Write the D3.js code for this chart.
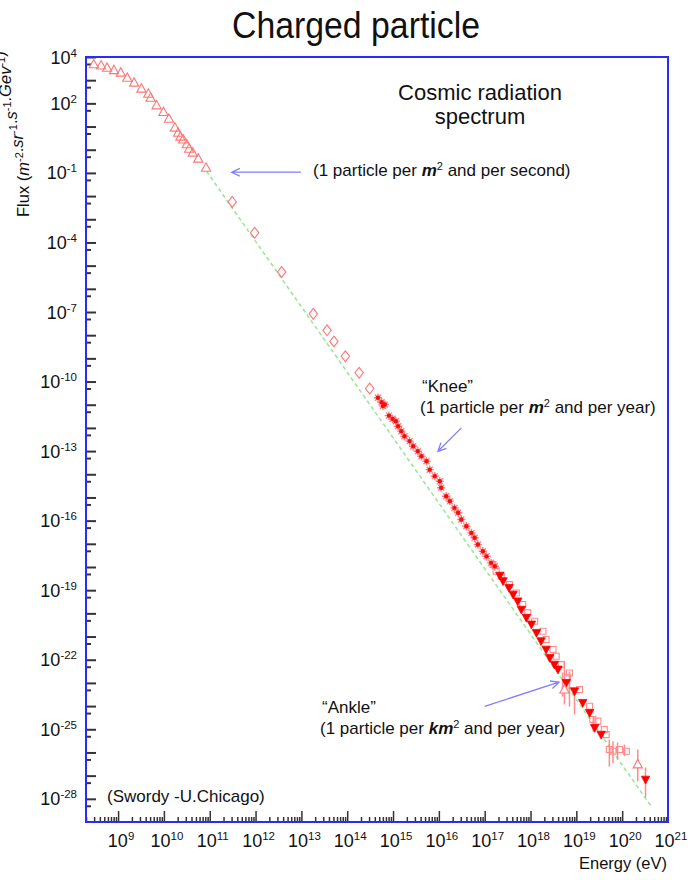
<!DOCTYPE html>
<html>
<head>
<meta charset="utf-8">
<script src="https://cdn.jsdelivr.net/npm/d3@7"></script>
<style>
body { margin: 0; background: #fff; }
text { font-family: Arial, "Liberation Sans", Helvetica, sans-serif; fill: #111; white-space: pre; }
</style>
</head>
<body>
<div id="chart"></div>
<script>
// values are log10(E / eV) and log10(flux)

var lowEnergy = [[8.47,3.68],[8.63,3.63],[8.76,3.53],[8.91,3.43],[9.06,3.32],[9.20,3.10],[9.35,2.89],
  [9.51,2.63],[9.66,2.41],[9.71,2.24],[9.84,1.91],[9.99,1.62],[10.11,1.33],[10.24,0.95],[10.31,0.73],
  [10.36,0.56],[10.42,0.44],[10.50,0.23],[10.55,0.04],[10.63,-0.13],[10.75,-0.39],[10.92,-0.78]];

var direct = [[11.49,-2.25],[11.98,-3.58],[12.57,-5.27],[13.26,-7.08],[13.56,-7.79],[13.71,-8.27],
  [13.96,-8.91],[14.26,-9.62],[14.49,-10.30]];

var airShower = [[14.67,-10.70],[14.75,-10.89],[14.78,-11.06],[14.82,-10.99],[14.91,-11.47],[14.99,-11.61],
  [15.06,-11.71],[15.11,-11.93],[15.18,-12.14],[15.25,-12.36],[15.36,-12.57],[15.44,-12.79],[15.54,-13.01],
  [15.62,-13.22],[15.73,-13.44],[15.80,-13.80],[15.91,-14.08],[16.02,-14.30],[16.05,-14.58],[16.16,-14.95],
  [16.24,-15.16],[16.34,-15.45],[16.42,-15.66],[16.49,-15.95],[16.60,-16.24],[16.71,-16.53],[16.78,-16.74],
  [16.85,-17.03],[16.96,-17.32],[17.04,-17.54],[17.14,-17.82],[17.22,-17.97]];

var filledDown = [[17.33,-18.37],[17.40,-18.61],[17.53,-18.90],[17.62,-19.19],[17.72,-19.48],[17.80,-19.84],
  [17.91,-20.19],[18.02,-20.48],[18.13,-20.84],[18.23,-21.20],[18.34,-21.56],[18.42,-21.92],[18.52,-22.21],
  [18.60,-22.42],[18.78,-23.00],[18.96,-23.36],[19.14,-23.86],[19.29,-24.29],[19.40,-24.94],[19.54,-25.23],
  [20.51,-27.17]];

var openSquare = [[17.18,-17.89],[17.25,-18.18],[17.36,-18.40],[17.54,-18.76],[17.69,-19.12],[17.83,-19.62],
  [17.94,-19.98],[18.09,-20.34],[18.27,-20.77],[18.34,-21.13],[18.49,-21.56],[18.56,-21.85],[18.67,-22.21],
  [18.81,-22.78],[18.85,-22.57],[19.07,-23.29],[19.29,-24.01],[19.36,-24.58],[19.47,-24.65],[19.61,-25.01],
  [19.65,-25.23],[19.72,-25.87],[19.80,-25.95],[19.94,-25.87],[20.09,-25.95]];

var openUp = [[18.74,-23.29],[20.34,-26.52]];

// [log E, low, high]
var errorBars = [[18.70,-23.59,-22.55],[18.74,-23.93,-22.07],[18.85,-24.02,-22.51],[18.96,-24.36,-23.42],
  [19.37,-25.10,-24.45],[19.72,-26.61,-25.44],[19.80,-26.45,-25.52],[19.90,-26.31,-25.57],
  [20.05,-26.16,-25.66],[20.34,-27.24,-25.87],[20.51,-27.95,-26.65]];

var refLine = [[10.93,-0.93],[20.63,-28.32]];

var yLabelExp = [4, 2, -1, -4, -7, -10, -13, -16, -19, -22, -25, -28];
var xLabelExp = [9, 10, 11, 12, 13, 14, 15, 16, 17, 18, 19, 20, 21];

// arrows: [tail, head]
var arrows = [
  [[12.99,-0.97],[11.48,-0.97]],
  [[16.49,-12.00],[15.98,-13.01]],
  [[17.00,-24.01],[18.62,-22.97]]
];

var width = 688, height = 880;
var plotL = 86, plotR = 668, plotT = 57, plotB = 822;

var svg = d3.select("#chart").append("svg")
    .attr("width", width)
    .attr("height", height);

var x = d3.scaleLog().domain([Math.pow(10, 8.3), 1e21]).range([plotL, plotR]);
var y = d3.scaleLog().domain([1e-29, 1e4]).range([plotB, plotT]);

function px(d) { return x(Math.pow(10, d[0])); }
function py(d) { return y(Math.pow(10, d[1])); }

// ======= ticks ========

var yMajor = d3.range(-28, 5).map(function(k) { return Math.pow(10, k); });
var yMinor = d3.range(-29, 4).map(function(k) { return 5 * Math.pow(10, k); });
var xMajor = d3.range(9, 21).map(function(k) { return Math.pow(10, k); });
var xMinor = [];
d3.range(8, 21).forEach(function(k) {
  d3.range(2, 10).forEach(function(m) {
    var v = m * Math.pow(10, k);
    if (v > x.domain()[0] && v < 1e21) xMinor.push(v);
  });
});

function tickAxis(axis, tr, sw) {
  var g = svg.append("g").attr("transform", tr).call(axis);
  g.select(".domain").remove();
  g.selectAll("line").attr("stroke", "#333").attr("stroke-width", sw);
  return g;
}
tickAxis(d3.axisLeft(y).tickValues(yMajor).tickSize(-10).tickFormat(""), "translate(" + plotL + ",0)", 2);
tickAxis(d3.axisLeft(y).tickValues(yMinor).tickSize(-5).tickFormat(""), "translate(" + plotL + ",0)", 2);
tickAxis(d3.axisBottom(x).tickValues(xMajor).tickSize(-11).tickFormat(""), "translate(0," + plotB + ")", 1.5);
tickAxis(d3.axisBottom(x).tickValues(xMinor).tickSize(-5).tickFormat(""), "translate(0," + plotB + ")", 1.5);

// ======= tick labels ========

function powLabel(sel, e) {
  sel.append("tspan").attr("font-size", 18).text("10");
  sel.append("tspan").attr("font-size", 11.5).attr("dy", -7).text(e);
}

yLabelExp.forEach(function(e) {
  var t = svg.append("text")
      .attr("x", 77)
      .attr("y", y(Math.pow(10, e)) + 6.5)
      .attr("text-anchor", "end");
  powLabel(t, e);
});

xLabelExp.forEach(function(e) {
  var t = svg.append("text")
      .attr("x", x(Math.pow(10, e)) + 3)
      .attr("y", 847)
      .attr("text-anchor", "middle");
  powLabel(t, e);
});

// ======= reference line ========

var line = d3.line().x(px).y(py);
svg.append("path")
    .attr("d", line(refLine))
    .attr("fill", "none")
    .attr("stroke", "#9be89b")
    .attr("stroke-width", 1.6)
    .attr("stroke-dasharray", "4,3");

// ======= error bars ========

svg.selectAll(".err")
    .data(errorBars)
  .enter().append("line")
    .attr("class", "err")
    .attr("x1", function(d) { return x(Math.pow(10, d[0])); })
    .attr("x2", function(d) { return x(Math.pow(10, d[0])); })
    .attr("y1", function(d) { return y(Math.pow(10, d[1])); })
    .attr("y2", function(d) { return y(Math.pow(10, d[2])); })
    .attr("stroke", "#ff8c8c")
    .attr("stroke-width", 1.5);

// ======= markers ========

var triUp = "M0,-5L4.6,3.4L-4.6,3.4Z";
var triDown = "M-4.2,-3.4L4.2,-3.4L0,4.4Z";
var diamond = "M0,-5.4L4.2,0L0,5.4L-4.2,0Z";
var square = "M-3,-3L3,-3L3,3L-3,3Z";
var star = "M-4.2,0L4.2,0M0,-4.2L0,4.2M-3,-3L3,3M-3,3L3,-3";

function markers(data, cls, shape, fill, stroke, sw) {
  svg.selectAll("." + cls)
      .data(data)
    .enter().append("path")
      .attr("class", cls)
      .attr("d", shape)
      .attr("transform", function(d) { return "translate(" + px(d) + "," + py(d) + ")"; })
      .attr("fill", fill)
      .attr("stroke", stroke)
      .attr("stroke-width", sw);
}

markers(lowEnergy, "low", triUp, "none", "#ff7575", 1.1);
markers(direct, "dir", diamond, "none", "#ff7575", 1.1);
markers(openSquare, "sq", square, "none", "#ff8a8a", 1.1);
markers(airShower, "air", star, "none", "#ff8080", 1.4);
svg.selectAll(".airc")
    .data(airShower)
  .enter().append("circle")
    .attr("class", "airc")
    .attr("cx", px).attr("cy", py)
    .attr("r", 2.2)
    .attr("fill", "#ee1111");
markers(filledDown, "fd", triDown, "#ff0000", "#ff0000", 0.8);
markers(openUp, "ou", triUp, "#fff", "#ff7575", 1.1);

// ======= arrows ========

arrows.forEach(function(a) {
  var x1 = px(a[0]), y1 = py(a[0]), x2 = px(a[1]), y2 = py(a[1]);
  var ang = Math.atan2(y2 - y1, x2 - x1);
  var h = 9, spread = 0.45;
  var p = d3.path();
  p.moveTo(x1, y1); p.lineTo(x2, y2);
  p.moveTo(x2 - h * Math.cos(ang - spread), y2 - h * Math.sin(ang - spread));
  p.lineTo(x2, y2);
  p.lineTo(x2 - h * Math.cos(ang + spread), y2 - h * Math.sin(ang + spread));
  svg.append("path")
      .attr("d", p.toString())
      .attr("fill", "none")
      .attr("stroke", "#7f7fff")
      .attr("stroke-width", 1.3);
});

// ======= frame ========

svg.append("rect")
    .attr("x", plotL).attr("y", plotT)
    .attr("width", plotR - plotL).attr("height", plotB - plotT)
    .attr("fill", "none")
    .attr("stroke", "#2a2aff")
    .attr("stroke-width", 2);

// ======= texts ========

svg.append("text")
    .attr("x", 356).attr("y", 38)
    .attr("text-anchor", "middle")
    .attr("font-size", 36)
    .attr("textLength", 248)
    .attr("lengthAdjust", "spacingAndGlyphs")
    .text("Charged particle");

svg.append("text").attr("x", 480).attr("y", 100).attr("text-anchor", "middle")
    .attr("font-size", 22).text("Cosmic radiation");
svg.append("text").attr("x", 480).attr("y", 124).attr("text-anchor", "middle")
    .attr("font-size", 22).text("spectrum");

function annot(xp, yp, before, unit, after) {
  var t = svg.append("text").attr("x", xp).attr("y", yp).attr("font-size", 17);
  t.append("tspan").text(before);
  t.append("tspan").attr("font-weight", "bold").attr("font-style", "italic").text(unit);
  t.append("tspan").attr("font-size", 11).attr("dy", -6).text("2");
  t.append("tspan").attr("dy", 6).text(after);
}

annot(313, 176, "(1 particle per ", "m", " and per second)");
svg.append("text").attr("x", 422).attr("y", 392).attr("font-size", 17).text("\u201cKnee\u201d");
annot(420, 413, "(1 particle per ", "m", " and per year)");
svg.append("text").attr("x", 322).attr("y", 713).attr("font-size", 17).text("\u201cAnkle\u201d");
annot(320, 734, "(1 particle per ", "km", " and per year)");

svg.append("text").attr("x", 107).attr("y", 802).attr("font-size", 17).text("(Swordy -U.Chicago)");

svg.append("text").attr("x", 667).attr("y", 869).attr("text-anchor", "end")
    .attr("font-size", 16.5).text("Energy (eV)");

// y axis title
var yt = svg.append("text")
    .attr("transform", "translate(29,217) rotate(-90)")
    .attr("text-anchor", "start")
    .attr("font-size", 16.5);
function ySeg(main, it, supTxt) {
  if (main) yt.append("tspan").text(main);
  yt.append("tspan").attr("font-style", "italic").text(it);
  yt.append("tspan").attr("font-size", 11).attr("dy", -6).text(supTxt);
  yt.append("tspan").attr("dy", 6).text("");
}
ySeg("Flux (", "m", "-2");
ySeg(".", "sr", "-1");
ySeg(".", "s", "-1");
ySeg(".", "Gev", "-1");
yt.append("tspan").text(")");
</script>
</body>
</html>
